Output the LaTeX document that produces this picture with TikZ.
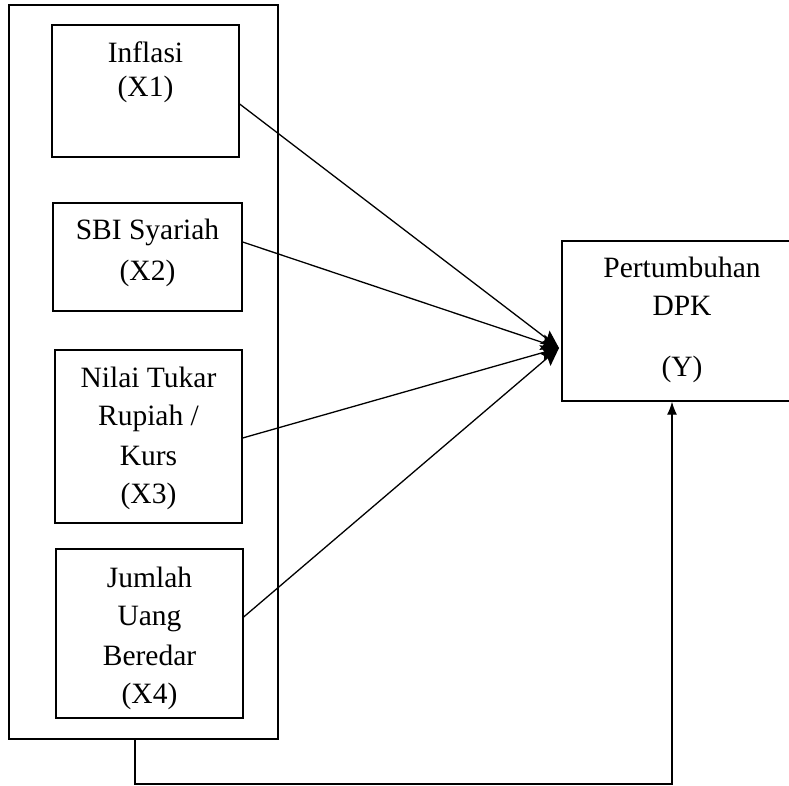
\documentclass[tikz,border=0pt]{standalone}
\usepackage{fontspec}
\setmainfont{Liberation Serif}
\usetikzlibrary{arrows.meta}
\begin{document}
\begin{tikzpicture}[x=1pt,y=-1pt,
  box/.style={draw, line width=1.3pt, inner sep=0pt, rectangle},
  txt/.style={anchor=base, inner sep=0pt, font=\fontsize{29.5}{34}\selectfont},
  conn/.style={line width=1.3pt, -{Stealth[length=18pt,width=16pt,inset=3pt]}},
  fb/.style={line width=1.3pt, -{Latex[length=13pt,width=10pt]}}]
\clip (0,0) rectangle (789,786);
\fill[white] (0,0) rectangle (789,786);
% boxes
\node[box, minimum width=269pt, minimum height=734pt] (outer) at (143.5,372) {};
\node[box, minimum width=187pt, minimum height=132pt] (b1) at (145.5,91) {};
\node[box, minimum width=189pt, minimum height=108pt] (b2) at (147.5,257) {};
\node[box, minimum width=187pt, minimum height=173pt] (b3) at (148.5,436.5) {};
\node[box, minimum width=187pt, minimum height=169pt] (b4) at (149.5,633.5) {};
\node[box, minimum width=258pt, minimum height=160pt] (right) at (691,321) {};
% texts
\node[txt] (t1a) at (145.5,63) {Inflasi};
\node[txt] (t1b) at (145.5,97) {(X1)};
\node[txt] (t2a) at (147.5,240) {SBI Syariah};
\node[txt] (t2b) at (147.5,280) {(X2)};
\node[txt] (t3a) at (148.5,387) {Nilai Tukar};
\node[txt] (t3b) at (148.5,425) {Rupiah /};
\node[txt] (t3c) at (148.5,465) {Kurs};
\node[txt] (t3d) at (148.5,503) {(X3)};
\node[txt] (t4a) at (149.5,587) {Jumlah};
\node[txt] (t4b) at (149.5,625) {Uang};
\node[txt] (t4c) at (149.5,665) {Beredar};
\node[txt] (t4d) at (149.5,703) {(X4)};
\node[txt] (ya) at (682,277) {Pertumbuhan};
\node[txt] (yb) at (682,315) {DPK};
\node[txt] (yc) at (682,376) {(Y)};
% connectors
\coordinate (conv) at (559,348);
\draw[conn] ([yshift=-13pt]b1.east) -- (conv);
\draw[conn] ([yshift=15pt]b2.east) -- (conv);
\draw[conn] ([yshift=-1.5pt]b3.east) -- (conv);
\draw[conn] ([yshift=16.5pt]b4.east) -- (conv);
\coordinate (c1) at (135,784);
\coordinate (c2) at (672,784);
\draw[fb] (outer.south -| c1) -- (c1) -- (c2) -- (right.south -| c2);
\end{tikzpicture}
\end{document}
